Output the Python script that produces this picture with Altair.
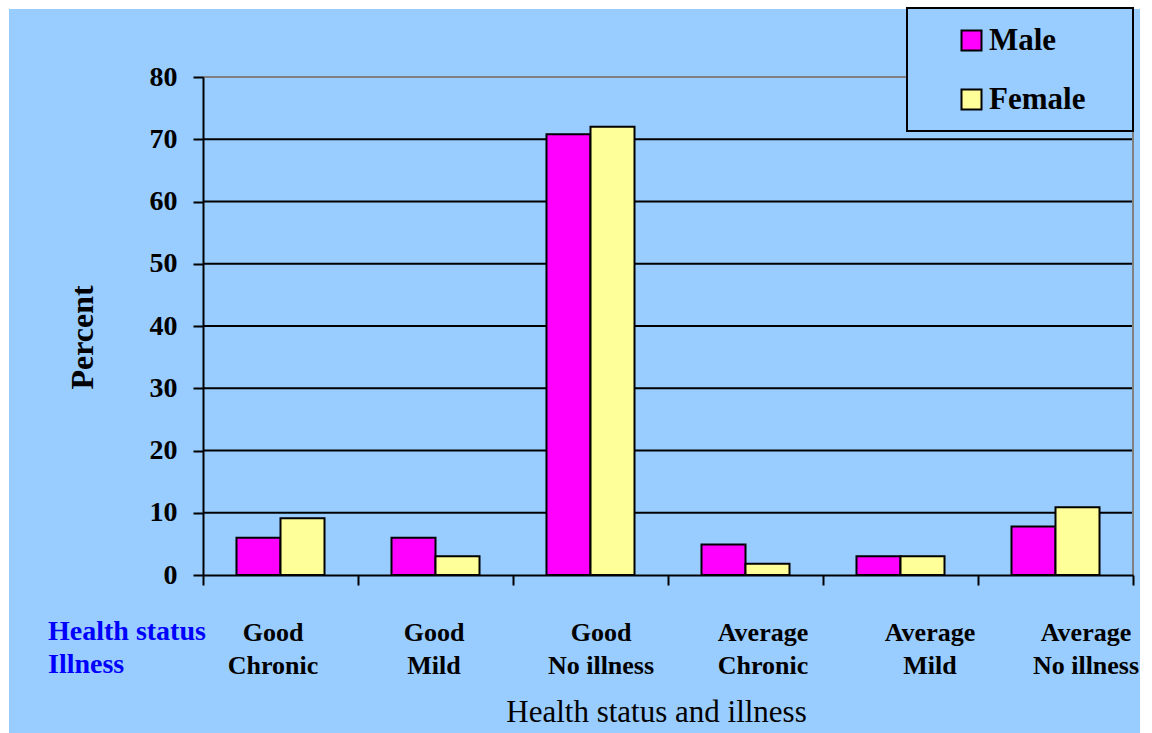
import altair as alt
import pandas as pd

# Categories: health status | illness
categories = [
    "Good|Chronic",
    "Good|Mild",
    "Good|No illness",
    "Average|Chronic",
    "Average|Mild",
    "Average|No illness",
]
sexes = ["Male", "Female"]
male = [6.0, 6.0, 70.8, 4.9, 3.0, 7.8]
female = [9.1, 3.0, 72.0, 1.8, 3.0, 10.9]
y_ticks = [0, 10, 20, 30, 40, 50, 60, 70, 80]
grid_levels = [10, 20, 30, 40, 50, 60, 70, 80]

W, H = 930, 498
FONT = "'Liberation Serif', 'Times New Roman', Times, serif"
BG = "#99CCFF"
BAR_COLORS = ["#FF00FF", "#FFFF99"]

# horizontal nudges (px) for the category labels under the axis
LABEL_NUDGE = {
    "Good|Chronic": -8,
    "Good|Mild": -2,
    "Good|No illness": 10,
    "Average|Chronic": 17,
    "Average|Mild": 29,
    "Average|No illness": 30,
}
label_offset = {
    "condition": [
        {"test": f"datum.value === '{k}'", "value": v} for k, v in LABEL_NUDGE.items()
    ],
    "value": 0,
}

rows = []
for cat, m, f in zip(categories, male, female):
    rows.append({"group": cat, "sex": "Male", "pct": m})
    rows.append({"group": cat, "sex": "Female", "pct": f})
bars_df = pd.DataFrame(rows)
grid_df = pd.DataFrame({"pct": grid_levels})
single = alt.Data(values=[{"k": 0}])

y_enc = alt.Y(
    "pct:Q",
    scale=alt.Scale(domain=[0, 80], nice=False, zero=True),
    axis=alt.Axis(
        values=y_ticks,
        title="Percent",
        titleFont=FONT,
        titleFontSize=32,
        titleFontWeight="bold",
        titleColor="black",
        titleX=-121,
        titleY=260,
        titleAlign="center",
        titleBaseline="middle",
        labelFont=FONT,
        labelFontSize=28,
        labelFontWeight="bold",
        labelColor="black",
        labelPadding=16,
        tickSize=10,
        tickWidth=2,
        tickColor="black",
        domainColor="black",
        domainWidth=2,
        grid=False,
        zindex=1,
    ),
)

# light-blue panel behind everything
backdrop = alt.Chart(single).mark_rect(fill=BG).encode(
    x=alt.value(-194), x2=alt.value(937), y=alt.value(-68), y2=alt.value(656)
)

# horizontal gridlines (top one grey, as part of the frame)
grid = alt.Chart(grid_df).mark_rule(strokeWidth=2).encode(
    y=y_enc,
    color=alt.condition("datum.pct == 80", alt.value("#808080"), alt.value("black")),
)

# right-hand frame edge
frame = alt.Chart(single).mark_rule(color="#808080", strokeWidth=2).encode(
    x=alt.value(W), y=alt.value(0), y2=alt.value(H)
)

# box around the legend, in the top-right corner
legend_box = alt.Chart(single).mark_rect(
    fill=BG, stroke="black", strokeWidth=2
).encode(x=alt.value(704), x2=alt.value(W), y=alt.value(-69), y2=alt.value(54))

bars = alt.Chart(bars_df).mark_bar(stroke="black", strokeWidth=2).encode(
    x=alt.X(
        "group:N",
        sort=categories,
        scale=alt.Scale(paddingInner=0, paddingOuter=0),
        axis=alt.Axis(
            title="Health status and illness",
            titleFont=FONT,
            titleFontSize=31,
            titleFontWeight="normal",
            titleColor="black",
            titleX=453,
            titleY=146,
            titleAlign="center",
            titleBaseline="alphabetic",
            labelExpr="split(datum.label, '|')",
            labelFont=FONT,
            labelFontSize=26,
            labelFontWeight="bold",
            labelColor="black",
            labelAngle=0,
            labelPadding=34,
            labelLineHeight=33,
            labelBaseline="top",
            labelOverlap=False,
            labelLimit=400,
            labelOffset=label_offset,
            tickBand="extent",
            tickSize=10,
            tickWidth=2,
            tickColor="black",
            domainColor="black",
            domainWidth=2,
            grid=False,
            zindex=1,
        ),
    ),
    xOffset=alt.XOffset(
        "sex:N", sort=sexes, scale=alt.Scale(paddingInner=0, paddingOuter=0.761)
    ),
    y=y_enc,
    color=alt.Color(
        "sex:N",
        sort=sexes,
        scale=alt.Scale(domain=sexes, range=BAR_COLORS),
        legend=alt.Legend(
            title=None,
            orient="none",
            legendX=704,
            legendY=-69,
            padding=17,
            symbolType="square",
            symbolSize=400,
            symbolStrokeColor="black",
            symbolStrokeWidth=2,
            symbolOffset=32,
            labelOffset=2,
            labelFont=FONT,
            labelFontSize=31,
            labelFontWeight="bold",
            labelColor="black",
            rowPadding=27,
        ),
    ),
)

# row captions to the left of the category labels
captions = alt.Chart(single).mark_text(
    text=["Health status", "Illness"],
    align="left",
    baseline="alphabetic",
    font=FONT,
    fontSize=28,
    fontWeight="bold",
    color="#0000FF",
    lineHeight=33,
).encode(x=alt.value(-155), y=alt.value(563))

chart = (
    alt.layer(backdrop, grid, frame, legend_box, bars, captions)
    .properties(
        width=W,
        height=H,
        autosize="none",
        padding={"left": 203, "top": 77, "right": 19, "bottom": 158},
        background="white",
    )
    .configure_view(stroke=None)
)

chart.save("out.html", embed_options={"renderer": "svg", "actions": False})
